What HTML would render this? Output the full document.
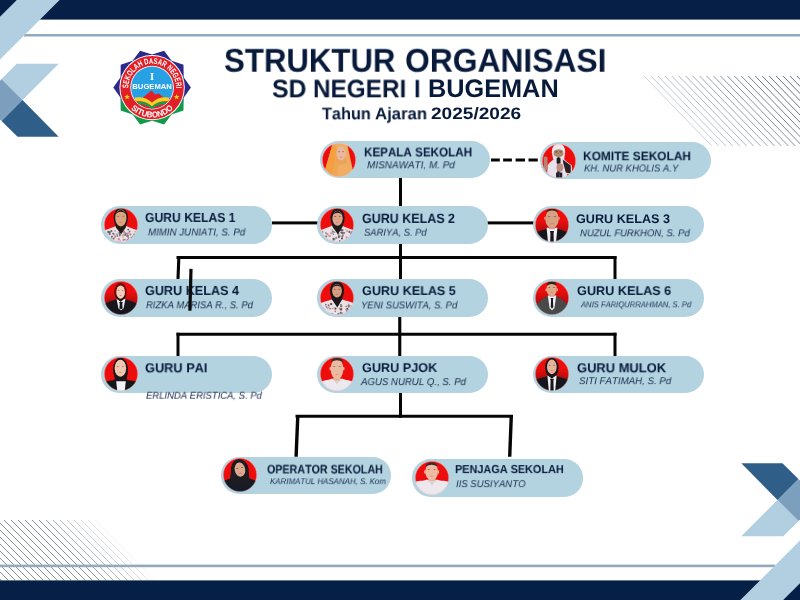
<!DOCTYPE html>
<html lang="id"><head><meta charset="utf-8"><title>Struktur Organisasi SD Negeri I Bugeman</title>
<style>
html,body{margin:0;padding:0;background:#fff;}
body{width:800px;height:600px;position:relative;overflow:hidden;font-family:"Liberation Sans",sans-serif;}
.t{position:absolute;white-space:nowrap;line-height:1;transform-origin:0 0;margin:0;padding:0;font-kerning:none;text-rendering:geometricPrecision;will-change:transform;}
.pill{position:absolute;width:171px;height:37px;border-radius:18.5px;background:#b3d3e1;}
.av{position:absolute;width:34px;height:34px;}
.ln{position:absolute;background:#050505;}
svg{position:absolute;display:block;}

</style></head><body>
<svg width="800" height="600" viewBox="0 0 800 600" style="left:0;top:0">
<defs>
<linearGradient id="dk" x1="0" y1="0" x2="1" y2="1"><stop offset="0" stop-color="#2a5680"/><stop offset="0.25" stop-color="#2f5f89"/><stop offset="1" stop-color="#2f5f89"/></linearGradient>
<clipPath id="cav"><circle cx="0" cy="0" r="49.2"/></clipPath>
<linearGradient id="shd" x1="0" y1="0" x2="0" y2="1"><stop offset="0" stop-color="#7a0508" stop-opacity="0"/><stop offset="1" stop-color="#7a0508" stop-opacity=".75"/></linearGradient>
<filter id="bl" x="-10%" y="-10%" width="120%" height="120%"><feGaussianBlur stdDeviation="1.5"/></filter>
</defs>
<line x1="644.0" y1="76" x2="711.9" y2="146" stroke="#66788a" stroke-opacity="0.33" stroke-width="1"/>
<line x1="651.0" y1="76" x2="718.9" y2="146" stroke="#66788a" stroke-opacity="0.37" stroke-width="1"/>
<line x1="657.9" y1="76" x2="725.8" y2="146" stroke="#66788a" stroke-opacity="0.41" stroke-width="1"/>
<line x1="664.9" y1="76" x2="732.8" y2="146" stroke="#66788a" stroke-opacity="0.45" stroke-width="1"/>
<line x1="671.8" y1="76" x2="739.7" y2="146" stroke="#66788a" stroke-opacity="0.49" stroke-width="1"/>
<line x1="678.8" y1="76" x2="746.7" y2="146" stroke="#66788a" stroke-opacity="0.52" stroke-width="1"/>
<line x1="685.7" y1="76" x2="753.6" y2="146" stroke="#66788a" stroke-opacity="0.56" stroke-width="1"/>
<line x1="692.7" y1="76" x2="760.6" y2="146" stroke="#66788a" stroke-opacity="0.60" stroke-width="1"/>
<line x1="699.6" y1="76" x2="767.5" y2="146" stroke="#66788a" stroke-opacity="0.64" stroke-width="1"/>
<line x1="706.6" y1="76" x2="774.5" y2="146" stroke="#66788a" stroke-opacity="0.68" stroke-width="1"/>
<line x1="713.5" y1="76" x2="781.4" y2="146" stroke="#66788a" stroke-opacity="0.72" stroke-width="1"/>
<line x1="720.5" y1="76" x2="788.4" y2="146" stroke="#66788a" stroke-opacity="0.76" stroke-width="1"/>
<line x1="727.4" y1="76" x2="795.3" y2="146" stroke="#66788a" stroke-opacity="0.80" stroke-width="1"/>
<line x1="734.4" y1="76" x2="802.3" y2="146" stroke="#66788a" stroke-opacity="0.83" stroke-width="1"/>
<line x1="741.3" y1="76" x2="809.2" y2="146" stroke="#66788a" stroke-opacity="0.87" stroke-width="1"/>
<line x1="748.3" y1="76" x2="816.2" y2="146" stroke="#66788a" stroke-opacity="0.91" stroke-width="1"/>
<line x1="755.2" y1="76" x2="823.1" y2="146" stroke="#66788a" stroke-opacity="0.95" stroke-width="1"/>
<line x1="762.2" y1="76" x2="830.1" y2="146" stroke="#66788a" stroke-opacity="0.99" stroke-width="1"/>
<line x1="769.1" y1="76" x2="837.0" y2="146" stroke="#66788a" stroke-opacity="1.00" stroke-width="1"/>
<line x1="776.1" y1="76" x2="844.0" y2="146" stroke="#66788a" stroke-opacity="1.00" stroke-width="1"/>
<line x1="783.0" y1="76" x2="850.9" y2="146" stroke="#66788a" stroke-opacity="1.00" stroke-width="1"/>
<line x1="790.0" y1="76" x2="857.9" y2="146" stroke="#66788a" stroke-opacity="1.00" stroke-width="1"/>
<line x1="796.9" y1="76" x2="864.8" y2="146" stroke="#66788a" stroke-opacity="1.00" stroke-width="1"/>
<line x1="803.9" y1="76" x2="871.8" y2="146" stroke="#66788a" stroke-opacity="1.00" stroke-width="1"/>
<line x1="-66.0" y1="520" x2="-5.5" y2="580.5" stroke="#78838e" stroke-opacity="0.90" stroke-width="1"/>
<line x1="-59.0" y1="520" x2="1.5" y2="580.5" stroke="#78838e" stroke-opacity="0.90" stroke-width="1"/>
<line x1="-52.0" y1="520" x2="8.5" y2="580.5" stroke="#78838e" stroke-opacity="0.90" stroke-width="1"/>
<line x1="-45.0" y1="520" x2="15.5" y2="580.5" stroke="#78838e" stroke-opacity="0.90" stroke-width="1"/>
<line x1="-38.0" y1="520" x2="22.5" y2="580.5" stroke="#78838e" stroke-opacity="0.90" stroke-width="1"/>
<line x1="-31.0" y1="520" x2="29.5" y2="580.5" stroke="#78838e" stroke-opacity="0.90" stroke-width="1"/>
<line x1="-24.0" y1="520" x2="36.5" y2="580.5" stroke="#78838e" stroke-opacity="0.90" stroke-width="1"/>
<line x1="-17.0" y1="520" x2="43.5" y2="580.5" stroke="#78838e" stroke-opacity="0.90" stroke-width="1"/>
<line x1="-10.0" y1="520" x2="50.5" y2="580.5" stroke="#78838e" stroke-opacity="0.90" stroke-width="1"/>
<line x1="-3.0" y1="520" x2="57.5" y2="580.5" stroke="#78838e" stroke-opacity="0.90" stroke-width="1"/>
<line x1="4.0" y1="520" x2="64.5" y2="580.5" stroke="#78838e" stroke-opacity="0.90" stroke-width="1"/>
<line x1="11.0" y1="520" x2="71.5" y2="580.5" stroke="#78838e" stroke-opacity="0.90" stroke-width="1"/>
<line x1="18.0" y1="520" x2="78.5" y2="580.5" stroke="#78838e" stroke-opacity="0.90" stroke-width="1"/>
<line x1="25.0" y1="520" x2="85.5" y2="580.5" stroke="#78838e" stroke-opacity="0.90" stroke-width="1"/>
<line x1="32.0" y1="520" x2="92.5" y2="580.5" stroke="#78838e" stroke-opacity="0.90" stroke-width="1"/>
<line x1="39.0" y1="520" x2="99.5" y2="580.5" stroke="#78838e" stroke-opacity="0.83" stroke-width="1"/>
<line x1="46.0" y1="520" x2="106.5" y2="580.5" stroke="#78838e" stroke-opacity="0.74" stroke-width="1"/>
<line x1="53.0" y1="520" x2="113.5" y2="580.5" stroke="#78838e" stroke-opacity="0.65" stroke-width="1"/>
<line x1="60.0" y1="520" x2="120.5" y2="580.5" stroke="#78838e" stroke-opacity="0.56" stroke-width="1"/>
<line x1="67.0" y1="520" x2="127.5" y2="580.5" stroke="#78838e" stroke-opacity="0.46" stroke-width="1"/>
<line x1="74.0" y1="520" x2="134.5" y2="580.5" stroke="#78838e" stroke-opacity="0.37" stroke-width="1"/>
<line x1="81.0" y1="520" x2="141.5" y2="580.5" stroke="#78838e" stroke-opacity="0.28" stroke-width="1"/>
<line x1="88.0" y1="520" x2="148.5" y2="580.5" stroke="#78838e" stroke-opacity="0.19" stroke-width="1"/>
<line x1="95.0" y1="520" x2="155.5" y2="580.5" stroke="#78838e" stroke-opacity="0.09" stroke-width="1"/>
<rect x="24" y="34" width="776" height="2.5" fill="#95a9bd"/>
<rect x="0" y="564.6" width="775" height="2.6" fill="#95a9bd"/>
<g id="cornerTL">
<rect x="0" y="0" width="800" height="19.6" fill="#061f47"/>
<polygon points="16.80,0.00 59.60,0.00 0.00,59.60 0.00,16.80" fill="#b1cfe0" />
<polygon points="16.70,63.70 58.70,63.70 22.50,100.00 1.45,79.00" fill="#b1cfe0" />
<polygon points="1.45,79.00 22.50,100.00 1.60,121.00 0.00,119.40 0.00,80.40" fill="#7c9fbe" />
<polygon points="22.50,100.00 58.70,136.70 17.50,136.70 1.60,121.00" fill="url(#dk)" />
</g>
<g transform="rotate(180 400 300)">
<rect x="0" y="0" width="800" height="19.6" fill="#061f47"/>
<polygon points="16.80,0.00 59.60,0.00 0.00,59.60 0.00,16.80" fill="#b1cfe0" />
<polygon points="16.70,63.70 58.70,63.70 22.50,100.00 1.45,79.00" fill="#b1cfe0" />
<polygon points="1.45,79.00 22.50,100.00 1.60,121.00 0.00,119.40 0.00,80.40" fill="#7c9fbe" />
<polygon points="22.50,100.00 58.70,136.70 17.50,136.70 1.60,121.00" fill="url(#dk)" />
</g>
</svg>
<svg width="800" height="600" viewBox="0 0 800 600" style="left:0;top:0"><rect x="399.00" y="176.00" width="3.00" height="106.00" fill="#050505"/>
<rect x="398.20" y="282.00" width="3.10" height="110.00" fill="#050505"/>
<rect x="399.00" y="392.00" width="3.00" height="25.70" fill="#050505"/>
<rect x="272.00" y="221.40" width="262.00" height="3.00" fill="#050505"/>
<rect x="176.50" y="256.00" width="440.00" height="3.00" fill="#050505"/>
<line x1="178.9" y1="256.2" x2="177.9" y2="281" stroke="#050505" stroke-width="3.1"/>
<rect x="613.50" y="256.00" width="3.00" height="25.00" fill="#050505"/>
<rect x="176.50" y="332.75" width="440.00" height="3.00" fill="#050505"/>
<rect x="176.50" y="332.75" width="3.00" height="25.00" fill="#050505"/>
<rect x="613.50" y="332.75" width="3.00" height="25.00" fill="#050505"/>
<rect x="295.50" y="414.75" width="217.50" height="3.00" fill="#050505"/>
<line x1="297.8" y1="415.5" x2="296.1" y2="456.8" stroke="#050505" stroke-width="3.4"/>
<line x1="511.3" y1="415.5" x2="509.7" y2="456.8" stroke="#050505" stroke-width="3.4"/>
<rect x="491.00" y="158.50" width="8.80" height="3.00" fill="#050505"/>
<rect x="503.10" y="158.50" width="8.80" height="3.00" fill="#050505"/>
<rect x="515.60" y="158.50" width="9.40" height="3.00" fill="#050505"/>
<rect x="528.50" y="158.50" width="9.30" height="3.00" fill="#050505"/></svg>
<div class="pill" style="left:319.5px;top:141.1px;width:170.6px;height:37.3px;border-radius:18.65px"></div>
<div class="pill" style="left:539.8px;top:142.2px;width:170.8px;height:37.3px;border-radius:18.65px"></div>
<div class="pill" style="left:101px;top:206.1px;width:171.1px;height:37.5px;border-radius:18.75px"></div>
<div class="pill" style="left:317px;top:206px;width:171px;height:37.5px;border-radius:18.75px"></div>
<div class="pill" style="left:533px;top:205.9px;width:170.7px;height:37.6px;border-radius:18.8px"></div>
<div class="pill" style="left:101px;top:279.1px;width:171.2px;height:38px;border-radius:19px"></div>
<div class="pill" style="left:317px;top:279.4px;width:171px;height:37.3px;border-radius:18.65px"></div>
<div class="pill" style="left:532.6px;top:279.2px;width:171.1px;height:37.5px;border-radius:18.75px"></div>
<div class="pill" style="left:101.1px;top:355.8px;width:171.3px;height:37.3px;border-radius:18.65px"></div>
<div class="pill" style="left:317px;top:355.7px;width:171.2px;height:37.3px;border-radius:18.65px"></div>
<div class="pill" style="left:532.6px;top:355.8px;width:171.1px;height:37.3px;border-radius:18.65px"></div>
<div class="pill" style="left:220.5px;top:457px;width:170.8px;height:36.7px;border-radius:18.35px"></div>
<div class="pill" style="left:412.1px;top:459.4px;width:171.1px;height:37.3px;border-radius:18.65px"></div>
<svg class="av" width="34" height="34" viewBox="-50 -50 100 100" style="left:322.10px;top:143.05px"><circle cx="0" cy="0" r="50" fill="#c9dfea"/><g clip-path="url(#cav)"><g filter="url(#bl)"><rect x="-52" y="-52" width="104" height="104" fill="#ee0f0f"/>
<path d="M-18,-50 L-40,26 L-34,54 L44,54 L39,22 L24,-48 Q2,-54 -18,-50 Z" fill="#efae64"/>
<path d="M-18,-50 L-40,26 L-34,54 L-21,54 L-6,-32 Z" fill="#f4a040"/>
<path d="M-7,-32 L-22,54 L-6,54 L0,0 Z" fill="#f0a655"/>
<ellipse cx="6" cy="-19.5" rx="13.5" ry="21" fill="#e9b89e"/><ellipse cx="-0.075" cy="-24.12" rx="2.7" ry="1.3" fill="#4a3028" opacity=".75"/><ellipse cx="12.075" cy="-24.12" rx="2.7" ry="1.3" fill="#4a3028" opacity=".75"/><ellipse cx="6" cy="-8.58" rx="4.05" ry="1.2" fill="#b86a60" opacity=".8"/>
<path d="M-8,-6 Q6,10 20,-8 L25,8 Q8,18 -9,8 Z" fill="#e9a45a"/></g></g><circle cx="0" cy="0" r="48.9" fill="none" stroke="#f6b8b8" stroke-opacity=".6" stroke-width="1.8"/></svg>
<div class="t" style="left:363.72px;top:146px;font-size:12.65px;color:#081a3a;transform:translate(0.00px,0.38px) scaleX(0.9210);font-weight:bold;">KEPALA SEKOLAH</div>
<div class="t" style="left:366.69px;top:161px;font-size:10.17px;color:#172a4a;transform:translate(0.00px,0.30px) scaleX(0.9796);font-style:italic;">MISNAWATI, M. Pd</div>
<svg class="av" width="34" height="34" viewBox="-50 -50 100 100" style="left:541.80px;top:144.45px"><circle cx="0" cy="0" r="50" fill="#c9dfea"/><g clip-path="url(#cav)"><g filter="url(#bl)"><rect x="-52" y="-52" width="104" height="104" fill="#ee0f0f"/>
<path d="M-21,-26 Q-21,-51 -1,-51 Q18,-51 18,-26 L15,-4 L-17,-4 Z" fill="#f3e6ea"/>
<path d="M-35,54 L-34,14 Q-25,-2 -11,-6 L14,-6 Q24,2 24,22 L24,54 Z" fill="#e9e1ee"/>
<path d="M9,-8 L38,13 L38,40 L20,37 L11,8 Z" fill="#f0dde0"/>
<path d="M11,-4.5 L34.5,13.6 L34.5,37 L20,33.6 L12.7,6.4 Z" fill="#2a2020"/>
<ellipse cx="-1.5" cy="-23" rx="14.5" ry="15" fill="#ab886e"/>
<path d="M-16.5,-30 Q-15,-48 -1,-48 Q14,-48 14,-30 Q0,-39 -16.5,-30 Z" fill="#efe6ea"/>
<ellipse cx="-7.5" cy="-27" rx="3.6" ry="1.8" fill="#55402f" opacity=".85"/><ellipse cx="5" cy="-27" rx="3.6" ry="1.8" fill="#55402f" opacity=".85"/>
<path d="M-14,-17 Q-1,-6 12,-17 Q11,-3 -1,-1 Q-12,-3 -14,-17 Z" fill="#e9e3e3"/>
<path d="M-45,-10 Q-39,-16 -34,-10 L-33,24 Q-39,32 -44,24 Z" fill="#b7836e"/>
<rect x="-7" y="-11" width="11.5" height="19" rx="4.5" fill="#1c1c26"/>
<rect x="-5" y="5" width="7.5" height="46" fill="#262630"/>
<ellipse cx="2.5" cy="19" rx="10" ry="12.5" fill="#bf8c82"/>
<rect x="-8.5" y="34" width="6.5" height="16" fill="#1c1c26"/><rect x="3" y="34" width="6.5" height="16" fill="#1c1c26"/></g></g><circle cx="0" cy="0" r="48.9" fill="none" stroke="#f6b8b8" stroke-opacity=".6" stroke-width="1.8"/></svg>
<div class="t" style="left:582.70px;top:150px;font-size:12.35px;color:#081a3a;transform:translate(0.00px,0.20px) scaleX(0.9662);font-weight:bold;">KOMITE SEKOLAH</div>
<div class="t" style="left:583.91px;top:164px;font-size:9.88px;color:#172a4a;transform:translate(0.00px,0.45px) scaleX(0.9594);font-style:italic;">KH. NUR KHOLIS A.Y</div>
<svg class="av" width="34" height="34" viewBox="-50 -50 100 100" style="left:103.60px;top:207.85px"><circle cx="0" cy="0" r="50" fill="#c9dfea"/><g clip-path="url(#cav)"><g filter="url(#bl)"><rect x="-52" y="-52" width="104" height="104" fill="#ee0f0f"/>
<path d="M-54,54 L-54,19 C-40,12 -26,8 -15,3 L15,3 C26,8 40,12 54,19 L54,54 Z" fill="#ebe2e5"/>
<circle cx="-4.4" cy="31.5" r="2.7" fill="#d09aa0" opacity=".85"/>
<circle cx="28.0" cy="28.0" r="3.3" fill="#8c868e" opacity=".85"/>
<circle cx="-37.3" cy="20.7" r="2.9" fill="#55525a" opacity=".85"/>
<circle cx="35.9" cy="34.6" r="3.6" fill="#8c868e" opacity=".85"/>
<circle cx="42.8" cy="35.5" r="3.0" fill="#8c868e" opacity=".85"/>
<circle cx="11.3" cy="42.9" r="2.1" fill="#55525a" opacity=".85"/>
<circle cx="-28.5" cy="18.2" r="3.2" fill="#55525a" opacity=".85"/>
<circle cx="-16.0" cy="32.8" r="2.8" fill="#b88088" opacity=".85"/>
<circle cx="12.9" cy="29.0" r="2.1" fill="#444048" opacity=".85"/>
<circle cx="14.2" cy="25.1" r="3.6" fill="#8c868e" opacity=".85"/>
<circle cx="31.3" cy="37.7" r="3.2" fill="#6f6a72" opacity=".85"/>
<circle cx="-36.1" cy="20.2" r="3.5" fill="#55525a" opacity=".85"/>
<circle cx="-26.7" cy="46.2" r="2.6" fill="#d09aa0" opacity=".85"/>
<circle cx="19.2" cy="25.6" r="3.0" fill="#8c868e" opacity=".85"/>
<circle cx="25.6" cy="19.3" r="2.5" fill="#55525a" opacity=".85"/>
<circle cx="-44.6" cy="25.2" r="2.2" fill="#55525a" opacity=".85"/>
<circle cx="-3.2" cy="28.4" r="2.9" fill="#444048" opacity=".85"/>
<circle cx="21.3" cy="13.5" r="2.6" fill="#444048" opacity=".85"/>
<circle cx="-9.7" cy="49.6" r="2.4" fill="#55525a" opacity=".85"/>
<circle cx="43.3" cy="41.7" r="3.6" fill="#6f6a72" opacity=".85"/>
<circle cx="45.6" cy="33.3" r="2.2" fill="#8c868e" opacity=".85"/>
<circle cx="-22.2" cy="40.5" r="3.3" fill="#6f6a72" opacity=".85"/>
<circle cx="-26.8" cy="34.7" r="3.0" fill="#55525a" opacity=".85"/>
<circle cx="-11.8" cy="27.0" r="2.8" fill="#8c868e" opacity=".85"/>
<circle cx="6.9" cy="44.4" r="3.0" fill="#b88088" opacity=".85"/>
<circle cx="-17.4" cy="17.6" r="2.4" fill="#8c868e" opacity=".85"/>
<circle cx="-28.5" cy="39.1" r="2.3" fill="#8c868e" opacity=".85"/>
<circle cx="41.4" cy="45.1" r="2.1" fill="#8c868e" opacity=".85"/>
<circle cx="22.1" cy="24.4" r="3.3" fill="#d09aa0" opacity=".85"/>
<circle cx="8.9" cy="20.3" r="3.5" fill="#b88088" opacity=".85"/>
<circle cx="-26.5" cy="46.4" r="2.0" fill="#444048" opacity=".85"/>
<circle cx="-21.2" cy="26.7" r="2.1" fill="#55525a" opacity=".85"/>
<circle cx="-20.1" cy="30.3" r="2.1" fill="#b88088" opacity=".85"/>
<circle cx="-33.3" cy="26.9" r="3.1" fill="#6f6a72" opacity=".85"/>
<circle cx="17.6" cy="32.5" r="2.9" fill="#b88088" opacity=".85"/>
<circle cx="39.0" cy="27.9" r="3.1" fill="#6f6a72" opacity=".85"/>
<circle cx="12.5" cy="28.3" r="2.5" fill="#444048" opacity=".85"/>
<circle cx="-4.3" cy="23.4" r="3.4" fill="#55525a" opacity=".85"/>
<circle cx="21.8" cy="37.6" r="2.6" fill="#6f6a72" opacity=".85"/>
<circle cx="17.0" cy="45.8" r="3.5" fill="#d09aa0" opacity=".85"/>
<circle cx="-43.2" cy="29.0" r="3.0" fill="#55525a" opacity=".85"/>
<circle cx="-10.8" cy="32.5" r="2.1" fill="#8c868e" opacity=".85"/>
<circle cx="-22.3" cy="25.5" r="2.6" fill="#6f6a72" opacity=".85"/>
<circle cx="21.6" cy="32.4" r="2.7" fill="#d09aa0" opacity=".85"/>
<circle cx="3.8" cy="29.8" r="2.0" fill="#8c868e" opacity=".85"/>
<circle cx="9.3" cy="28.2" r="3.5" fill="#b88088" opacity=".85"/>
<circle cx="-35.6" cy="40.8" r="3.5" fill="#444048" opacity=".85"/>
<circle cx="-18.3" cy="36.5" r="2.8" fill="#b88088" opacity=".85"/>
<circle cx="23.3" cy="22.4" r="2.8" fill="#d09aa0" opacity=".85"/>
<circle cx="-23.8" cy="25.0" r="2.3" fill="#6f6a72" opacity=".85"/>
<circle cx="-6.4" cy="41.9" r="3.4" fill="#b88088" opacity=".85"/>
<circle cx="-10.6" cy="32.5" r="2.3" fill="#6f6a72" opacity=".85"/>
<circle cx="-33.6" cy="22.7" r="3.1" fill="#55525a" opacity=".85"/>
<circle cx="41.4" cy="19.6" r="2.2" fill="#b88088" opacity=".85"/>
<circle cx="-2.6" cy="46.9" r="2.6" fill="#d09aa0" opacity=".85"/>
<circle cx="19.9" cy="43.4" r="2.7" fill="#8c868e" opacity=".85"/>
<circle cx="19.2" cy="32.0" r="3.0" fill="#6f6a72" opacity=".85"/>
<circle cx="5.9" cy="34.9" r="2.7" fill="#d09aa0" opacity=".85"/>
<ellipse cx="-0.5" cy="-22" rx="21" ry="29.5" fill="#241a18"/>
<path d="M-20.5,-14.5 L-15,7 L0.5,27 L14,7 L19.5,-14.5 Z" fill="#241a18"/>
<ellipse cx="-0.5" cy="-20.5" rx="16.5" ry="25" fill="#dba581"/><ellipse cx="-7.925" cy="-26" rx="3.3" ry="1.3" fill="#4a3028" opacity=".75"/><ellipse cx="6.925" cy="-26" rx="3.3" ry="1.3" fill="#4a3028" opacity=".75"/><ellipse cx="-0.5" cy="-7.5" rx="4.95" ry="1.2" fill="#b86a60" opacity=".8"/>
<path d="M-16,-31.75 Q-0.5,-56.75 15,-31.75 Q-0.5,-45.5 -16,-31.75 Z" fill="#241a18"/></g></g><circle cx="0" cy="0" r="48.9" fill="none" stroke="#f6b8b8" stroke-opacity=".6" stroke-width="1.8"/></svg>
<div class="t" style="left:145.30px;top:210px;font-size:13.08px;color:#081a3a;transform:translate(0.00px,0.88px) scaleX(0.9296);font-weight:bold;">GURU KELAS 1</div>
<div class="t" style="left:147.50px;top:228px;font-size:10.17px;color:#172a4a;transform:translate(0.00px,0.47px) scaleX(0.9557);font-style:italic;">MIMIN JUNIATI, S. Pd</div>
<svg class="av" width="34" height="34" viewBox="-50 -50 100 100" style="left:319.60px;top:207.75px"><circle cx="0" cy="0" r="50" fill="#c9dfea"/><g clip-path="url(#cav)"><g filter="url(#bl)"><rect x="-52" y="-52" width="104" height="104" fill="#ee0f0f"/>
<path d="M-54,54 L-54,17.5 C-40,10.5 -26,7 -15,2 L15,2 C26,7 40,10.5 54,17.5 L54,54 Z" fill="#ebe2e5"/>
<circle cx="39.1" cy="47.8" r="2.0" fill="#55525a" opacity=".85"/>
<circle cx="-17.8" cy="23.9" r="2.2" fill="#6f6a72" opacity=".85"/>
<circle cx="-28.3" cy="26.7" r="3.0" fill="#b88088" opacity=".85"/>
<circle cx="44.3" cy="28.9" r="2.8" fill="#55525a" opacity=".85"/>
<circle cx="21.5" cy="23.1" r="2.3" fill="#55525a" opacity=".85"/>
<circle cx="-42.8" cy="23.5" r="3.0" fill="#b88088" opacity=".85"/>
<circle cx="43.3" cy="23.2" r="3.5" fill="#6f6a72" opacity=".85"/>
<circle cx="-20.1" cy="48.9" r="2.1" fill="#8c868e" opacity=".85"/>
<circle cx="-2.4" cy="38.2" r="3.3" fill="#8c868e" opacity=".85"/>
<circle cx="16.2" cy="14.9" r="2.9" fill="#b88088" opacity=".85"/>
<circle cx="15.9" cy="29.8" r="2.2" fill="#8c868e" opacity=".85"/>
<circle cx="-20.6" cy="32.1" r="2.5" fill="#8c868e" opacity=".85"/>
<circle cx="-12.0" cy="20.1" r="3.4" fill="#6f6a72" opacity=".85"/>
<circle cx="-32.2" cy="34.0" r="3.1" fill="#55525a" opacity=".85"/>
<circle cx="30.2" cy="18.0" r="2.2" fill="#8c868e" opacity=".85"/>
<circle cx="-10.8" cy="26.9" r="2.1" fill="#55525a" opacity=".85"/>
<circle cx="28.5" cy="36.9" r="3.3" fill="#b88088" opacity=".85"/>
<circle cx="41.3" cy="30.6" r="3.2" fill="#d09aa0" opacity=".85"/>
<circle cx="-14.2" cy="48.9" r="2.8" fill="#d09aa0" opacity=".85"/>
<circle cx="-42.6" cy="19.1" r="2.3" fill="#8c868e" opacity=".85"/>
<circle cx="39.9" cy="47.9" r="2.1" fill="#b88088" opacity=".85"/>
<circle cx="5.2" cy="35.3" r="2.9" fill="#444048" opacity=".85"/>
<circle cx="28.8" cy="18.6" r="2.3" fill="#d09aa0" opacity=".85"/>
<circle cx="-44.9" cy="40.0" r="3.4" fill="#444048" opacity=".85"/>
<circle cx="28.9" cy="45.6" r="3.3" fill="#444048" opacity=".85"/>
<circle cx="-39.6" cy="48.3" r="3.2" fill="#444048" opacity=".85"/>
<circle cx="4.2" cy="25.9" r="3.2" fill="#6f6a72" opacity=".85"/>
<circle cx="5.3" cy="31.1" r="2.2" fill="#6f6a72" opacity=".85"/>
<circle cx="12.1" cy="22.0" r="3.2" fill="#8c868e" opacity=".85"/>
<circle cx="14.8" cy="22.2" r="2.9" fill="#444048" opacity=".85"/>
<circle cx="-24.4" cy="31.6" r="3.3" fill="#d09aa0" opacity=".85"/>
<circle cx="44.9" cy="19.4" r="2.6" fill="#6f6a72" opacity=".85"/>
<circle cx="26.3" cy="14.0" r="2.3" fill="#d09aa0" opacity=".85"/>
<circle cx="16.7" cy="15.3" r="3.2" fill="#d09aa0" opacity=".85"/>
<circle cx="41.8" cy="25.6" r="2.8" fill="#6f6a72" opacity=".85"/>
<circle cx="17.4" cy="30.6" r="2.3" fill="#8c868e" opacity=".85"/>
<circle cx="-40.3" cy="45.4" r="3.2" fill="#d09aa0" opacity=".85"/>
<circle cx="15.9" cy="33.4" r="3.1" fill="#6f6a72" opacity=".85"/>
<circle cx="-8.5" cy="41.8" r="3.5" fill="#6f6a72" opacity=".85"/>
<circle cx="-14.6" cy="24.3" r="3.4" fill="#d09aa0" opacity=".85"/>
<circle cx="15.4" cy="39.7" r="2.9" fill="#6f6a72" opacity=".85"/>
<circle cx="17.6" cy="24.1" r="3.6" fill="#6f6a72" opacity=".85"/>
<circle cx="-32.5" cy="23.6" r="2.7" fill="#8c868e" opacity=".85"/>
<circle cx="-34.9" cy="31.8" r="2.0" fill="#d09aa0" opacity=".85"/>
<circle cx="-42.6" cy="40.9" r="2.4" fill="#55525a" opacity=".85"/>
<circle cx="44.4" cy="34.6" r="2.7" fill="#55525a" opacity=".85"/>
<circle cx="6.0" cy="34.1" r="2.3" fill="#55525a" opacity=".85"/>
<circle cx="-12.8" cy="49.4" r="3.5" fill="#8c868e" opacity=".85"/>
<circle cx="14.2" cy="15.1" r="3.5" fill="#55525a" opacity=".85"/>
<circle cx="10.2" cy="13.8" r="2.5" fill="#444048" opacity=".85"/>
<circle cx="36.5" cy="20.4" r="3.3" fill="#55525a" opacity=".85"/>
<circle cx="9.5" cy="32.8" r="2.0" fill="#6f6a72" opacity=".85"/>
<circle cx="-13.8" cy="14.7" r="2.3" fill="#b88088" opacity=".85"/>
<circle cx="-6.8" cy="21.3" r="2.4" fill="#8c868e" opacity=".85"/>
<circle cx="8.0" cy="47.4" r="2.6" fill="#444048" opacity=".85"/>
<circle cx="13.9" cy="39.3" r="2.5" fill="#444048" opacity=".85"/>
<circle cx="35.6" cy="49.2" r="2.2" fill="#444048" opacity=".85"/>
<circle cx="-11.0" cy="40.5" r="2.8" fill="#55525a" opacity=".85"/>
<ellipse cx="1.6" cy="-21.5" rx="21" ry="27.5" fill="#1e1a1d"/>
<path d="M-18.4,-14 L-12.9,6 L2.6,27 L16.1,6 L21.6,-14 Z" fill="#1e1a1d"/>
<ellipse cx="1.6" cy="-20" rx="15.3" ry="22" fill="#dfa48c"/><ellipse cx="-5.285" cy="-24.84" rx="3.06" ry="1.3" fill="#4a3028" opacity=".75"/><ellipse cx="8.485" cy="-24.84" rx="3.06" ry="1.3" fill="#4a3028" opacity=".75"/><ellipse cx="1.6" cy="-8.56" rx="4.59" ry="1.2" fill="#b86a60" opacity=".8"/>
<path d="M-12.7,-29.9 Q1.6,-51.9 15.9,-29.9 Q1.6,-42 -12.7,-29.9 Z" fill="#1e1a1d"/></g></g><circle cx="0" cy="0" r="48.9" fill="none" stroke="#f6b8b8" stroke-opacity=".6" stroke-width="1.8"/></svg>
<div class="t" style="left:361.99px;top:211px;font-size:13.44px;color:#081a3a;transform:translate(0.00px,0.88px) scaleX(0.9292);font-weight:bold;">GURU KELAS 2</div>
<div class="t" style="left:363.63px;top:228px;font-size:9.88px;color:#172a4a;transform:translate(0.00px,0.65px) scaleX(0.9514);font-style:italic;">SARIYA, S. Pd</div>
<svg class="av" width="34" height="34" viewBox="-50 -50 100 100" style="left:535.20px;top:207.70px"><circle cx="0" cy="0" r="50" fill="#c9dfea"/><g clip-path="url(#cav)"><g filter="url(#bl)"><rect x="-52" y="-52" width="104" height="104" fill="#ee0f0f"/>
<rect x="-52" y="-12" width="104" height="42" fill="url(#shd)"/>
<path d="M-54,54 L-54,25 C-40,18 -26,15 -16,10 L16,10 C26,15 40,18 54,25 L54,54 Z" fill="#15151a"/>
<path d="M-16,8 L16,8 L11.5,54 L-11.5,54 Z" fill="#f1eff3"/>
<path d="M-6,18 L6,18 L4.5,24 L5.5,54 L0,57 L-5.5,54 L-4.5,24 Z" fill="#15151a"/>
<rect x="-9" y="0" width="18" height="12" fill="#cf987a"/>
<ellipse cx="-20.5" cy="-20" rx="2.5" ry="5" fill="#d39c7e"/><ellipse cx="20.5" cy="-20" rx="2.5" ry="5" fill="#d39c7e"/>
<ellipse cx="0" cy="-18" rx="19.5" ry="28" fill="#d8a282"/><ellipse cx="-8.775" cy="-24.16" rx="3.9" ry="1.3" fill="#4a3028" opacity=".75"/><ellipse cx="8.775" cy="-24.16" rx="3.9" ry="1.3" fill="#4a3028" opacity=".75"/><ellipse cx="0" cy="-3.44" rx="5.85" ry="1.2" fill="#a8645a" opacity=".8"/>
<path d="M-12,2 Q0,14 12,2 Q6,8 0,8 Q-6,8 -12,2 Z" fill="#5e4030" opacity=".85"/>
<path d="M-17,-37.5 Q-17,-47 0,-48 Q17,-47 17,-37.5 Q0,-48.5 -17,-37.5 Z" fill="#3a2a26"/></g></g><circle cx="0" cy="0" r="48.9" fill="none" stroke="#f6b8b8" stroke-opacity=".6" stroke-width="1.8"/></svg>
<div class="t" style="left:576.08px;top:212px;font-size:12.50px;color:#081a3a;transform:translate(0.00px,0.60px) scaleX(1.0097);font-weight:bold;">GURU KELAS 3</div>
<div class="t" style="left:579.61px;top:229px;font-size:9.88px;color:#172a4a;transform:translate(0.00px,0.28px) scaleX(0.9607);font-style:italic;">NUZUL FURKHON, S. Pd</div>
<svg class="av" width="34" height="34" viewBox="-50 -50 100 100" style="left:103.60px;top:281.10px"><circle cx="0" cy="0" r="50" fill="#c9dfea"/><g clip-path="url(#cav)"><g filter="url(#bl)"><rect x="-52" y="-52" width="104" height="104" fill="#ee0f0f"/>
<rect x="-52" y="-18" width="104" height="42" fill="url(#shd)"/>
<path d="M-54,54 L-54,19 C-40,12 -26,8.6 -14,3.6 L14,3.6 C26,8.6 40,12 54,19 L54,54 Z" fill="#14141a"/>
<path d="M-13,3 L13,3 L7.5,31 L-7.5,31 Z" fill="#f1eff3"/>
<path d="M-7.5,31 L7.5,31 L0,36 Z" fill="#f1eff3"/>
<path d="M-5.2,12 L5.2,12 L3.7,18 L4.7,30 L0,33 L-4.7,30 L-3.7,18 Z" fill="#15151a"/>
<ellipse cx="-1.5" cy="-18.5" rx="18.5" ry="26" fill="#6a080b"/>
<path d="M-15,-2 L-1,12 L13,-2 L12,-8 L-14,-8 Z" fill="#1a1518"/>
<ellipse cx="-1.2" cy="-17.5" rx="12.8" ry="19.5" fill="#f2cdb8"/><ellipse cx="-6.96" cy="-21.79" rx="2.56" ry="1.3" fill="#4a3028" opacity=".75"/><ellipse cx="4.56" cy="-21.79" rx="2.56" ry="1.3" fill="#4a3028" opacity=".75"/><ellipse cx="-1.2" cy="-7.36" rx="3.84" ry="1.2" fill="#d0605a" opacity=".8"/></g></g><circle cx="0" cy="0" r="48.9" fill="none" stroke="#f6b8b8" stroke-opacity=".6" stroke-width="1.8"/></svg>
<div class="t" style="left:145.48px;top:283px;font-size:13.08px;color:#081a3a;transform:translate(0.00px,0.88px) scaleX(0.9660);font-weight:bold;">GURU KELAS 4</div>
<div class="t" style="left:145.71px;top:301px;font-size:10.17px;color:#172a4a;transform:translate(0.00px,0.30px) scaleX(0.9281);font-style:italic;">RIZKA MARISA R., S. Pd</div>
<svg class="av" width="34" height="34" viewBox="-50 -50 100 100" style="left:319.60px;top:281.05px"><circle cx="0" cy="0" r="50" fill="#c9dfea"/><g clip-path="url(#cav)"><g filter="url(#bl)"><rect x="-52" y="-52" width="104" height="104" fill="#ee0f0f"/>
<path d="M-54,54 L-54,18 C-40,11 -26,9 -15,4 L15,4 C26,9 40,11 54,18 L54,54 Z" fill="#ebe2e5"/>
<circle cx="10.8" cy="43.4" r="2.8" fill="#444048" opacity=".85"/>
<circle cx="12.1" cy="23.5" r="3.3" fill="#8c868e" opacity=".85"/>
<circle cx="44.4" cy="27.2" r="3.5" fill="#6f6a72" opacity=".85"/>
<circle cx="43.5" cy="25.8" r="3.5" fill="#b88088" opacity=".85"/>
<circle cx="43.4" cy="43.2" r="2.7" fill="#55525a" opacity=".85"/>
<circle cx="4.0" cy="47.0" r="3.1" fill="#444048" opacity=".85"/>
<circle cx="30.1" cy="31.6" r="3.1" fill="#444048" opacity=".85"/>
<circle cx="43.3" cy="41.9" r="2.3" fill="#8c868e" opacity=".85"/>
<circle cx="14.3" cy="46.2" r="3.1" fill="#55525a" opacity=".85"/>
<circle cx="-25.3" cy="21.6" r="2.3" fill="#8c868e" opacity=".85"/>
<circle cx="33.2" cy="38.6" r="3.2" fill="#b88088" opacity=".85"/>
<circle cx="-17.3" cy="17.5" r="3.5" fill="#444048" opacity=".85"/>
<circle cx="11.5" cy="19.9" r="2.3" fill="#444048" opacity=".85"/>
<circle cx="-32.8" cy="19.2" r="2.1" fill="#444048" opacity=".85"/>
<circle cx="-4.7" cy="31.4" r="2.4" fill="#55525a" opacity=".85"/>
<circle cx="-24.0" cy="26.6" r="2.5" fill="#b88088" opacity=".85"/>
<circle cx="-43.3" cy="50.0" r="2.9" fill="#55525a" opacity=".85"/>
<circle cx="11.8" cy="35.6" r="2.5" fill="#8c868e" opacity=".85"/>
<circle cx="7.3" cy="30.7" r="2.0" fill="#444048" opacity=".85"/>
<circle cx="-20.5" cy="31.7" r="2.4" fill="#55525a" opacity=".85"/>
<circle cx="-30.2" cy="26.7" r="2.3" fill="#55525a" opacity=".85"/>
<circle cx="29.6" cy="37.6" r="3.1" fill="#8c868e" opacity=".85"/>
<circle cx="-14.1" cy="31.1" r="2.1" fill="#8c868e" opacity=".85"/>
<circle cx="32.2" cy="36.3" r="3.2" fill="#b88088" opacity=".85"/>
<circle cx="31.7" cy="34.9" r="2.9" fill="#6f6a72" opacity=".85"/>
<circle cx="34.4" cy="18.9" r="2.4" fill="#d09aa0" opacity=".85"/>
<circle cx="45.2" cy="42.7" r="3.5" fill="#6f6a72" opacity=".85"/>
<circle cx="34.0" cy="44.1" r="3.4" fill="#55525a" opacity=".85"/>
<circle cx="-4.9" cy="34.0" r="3.0" fill="#b88088" opacity=".85"/>
<circle cx="21.4" cy="47.5" r="2.9" fill="#8c868e" opacity=".85"/>
<circle cx="-32.7" cy="23.5" r="2.3" fill="#b88088" opacity=".85"/>
<circle cx="-24.5" cy="21.4" r="2.3" fill="#55525a" opacity=".85"/>
<circle cx="29.6" cy="41.7" r="2.8" fill="#6f6a72" opacity=".85"/>
<circle cx="-36.9" cy="48.5" r="2.9" fill="#6f6a72" opacity=".85"/>
<circle cx="34.6" cy="28.1" r="2.1" fill="#8c868e" opacity=".85"/>
<circle cx="4.3" cy="47.9" r="2.6" fill="#b88088" opacity=".85"/>
<circle cx="7.9" cy="31.9" r="3.3" fill="#d09aa0" opacity=".85"/>
<circle cx="27.8" cy="47.8" r="2.9" fill="#8c868e" opacity=".85"/>
<circle cx="-3.7" cy="30.5" r="2.3" fill="#444048" opacity=".85"/>
<circle cx="-31.8" cy="42.7" r="2.4" fill="#55525a" opacity=".85"/>
<circle cx="13.7" cy="43.6" r="2.8" fill="#8c868e" opacity=".85"/>
<circle cx="12.2" cy="32.7" r="3.5" fill="#444048" opacity=".85"/>
<circle cx="27.1" cy="24.7" r="2.8" fill="#8c868e" opacity=".85"/>
<circle cx="-9.3" cy="29.4" r="2.1" fill="#8c868e" opacity=".85"/>
<circle cx="26.7" cy="33.8" r="2.5" fill="#b88088" opacity=".85"/>
<circle cx="34.0" cy="23.1" r="2.9" fill="#444048" opacity=".85"/>
<circle cx="13.1" cy="23.2" r="2.7" fill="#b88088" opacity=".85"/>
<circle cx="32.3" cy="36.9" r="3.0" fill="#d09aa0" opacity=".85"/>
<circle cx="-5.1" cy="39.4" r="2.2" fill="#6f6a72" opacity=".85"/>
<circle cx="33.5" cy="45.2" r="2.1" fill="#444048" opacity=".85"/>
<circle cx="44.8" cy="33.3" r="2.6" fill="#6f6a72" opacity=".85"/>
<circle cx="-40.4" cy="31.2" r="3.2" fill="#b88088" opacity=".85"/>
<circle cx="12.7" cy="25.0" r="2.7" fill="#6f6a72" opacity=".85"/>
<circle cx="-14.3" cy="47.0" r="3.2" fill="#8c868e" opacity=".85"/>
<circle cx="29.1" cy="40.4" r="3.2" fill="#6f6a72" opacity=".85"/>
<circle cx="-27.6" cy="30.6" r="2.7" fill="#d09aa0" opacity=".85"/>
<circle cx="36.4" cy="23.1" r="3.1" fill="#8c868e" opacity=".85"/>
<circle cx="-40.1" cy="46.5" r="2.9" fill="#d09aa0" opacity=".85"/>
<ellipse cx="0" cy="-23" rx="20.5" ry="27" fill="#1c181b"/>
<path d="M-19.5,-15.5 L-15.5,4 L1,28 L15.5,4 L19.5,-15.5 Z" fill="#1c181b"/>
<ellipse cx="0" cy="-21.5" rx="14.4" ry="20" fill="#d89c80"/><ellipse cx="-6.48" cy="-25.9" rx="2.88" ry="1.3" fill="#4a3028" opacity=".75"/><ellipse cx="6.48" cy="-25.9" rx="2.88" ry="1.3" fill="#4a3028" opacity=".75"/><ellipse cx="0" cy="-11.1" rx="4.32" ry="1.2" fill="#b86a60" opacity=".8"/>
<path d="M-13.4,-30.5 Q0,-50.5 13.4,-30.5 Q0,-41.5 -13.4,-30.5 Z" fill="#1c181b"/></g></g><circle cx="0" cy="0" r="48.9" fill="none" stroke="#f6b8b8" stroke-opacity=".6" stroke-width="1.8"/></svg>
<div class="t" style="left:361.98px;top:284px;font-size:12.72px;color:#081a3a;transform:translate(0.00px,0.88px) scaleX(0.9913);font-weight:bold;">GURU KELAS 5</div>
<div class="t" style="left:361.01px;top:301px;font-size:9.88px;color:#172a4a;transform:translate(0.00px,0.38px) scaleX(0.9585);font-style:italic;">YENI SUSWITA, S. Pd</div>
<svg class="av" width="34" height="34" viewBox="-50 -50 100 100" style="left:535.40px;top:280.95px"><circle cx="0" cy="0" r="50" fill="#c9dfea"/><g clip-path="url(#cav)"><g filter="url(#bl)"><rect x="-52" y="-52" width="104" height="104" fill="#ee0f0f"/>
<rect x="-52" y="-20" width="104" height="46" fill="url(#shd)"/>
<path d="M-54,54 L-54,24 C-40,17 -26,-1 -12.7,-6 L12.7,-6 C26,-1 40,17 54,24 L54,54 Z" fill="#48494a"/>
<path d="M-12.5,-7 L12.5,-7 L7,30 L-7,30 Z" fill="#f1eff3"/>
<path d="M-7,30 L7,30 L0,36 Z" fill="#f1eff3"/>
<path d="M-4.2,0 L4.2,0 L2.7,6 L3.7,27 L0,30 L-3.7,27 L-2.7,6 Z" fill="#18181c"/>
<rect x="-7" y="-14" width="14" height="10" fill="#d69f80"/>
<ellipse cx="-17" cy="-24" rx="2.4" ry="4.5" fill="#dba688"/><ellipse cx="15.5" cy="-24" rx="2.4" ry="4.5" fill="#dba688"/>
<ellipse cx="-1" cy="-26.5" rx="15.3" ry="20.5" fill="#e0a98a"/><ellipse cx="-7.885" cy="-31.01" rx="3.06" ry="1.3" fill="#4a3028" opacity=".75"/><ellipse cx="5.885" cy="-31.01" rx="3.06" ry="1.3" fill="#4a3028" opacity=".75"/><ellipse cx="-1" cy="-15.84" rx="4.59" ry="1.2" fill="#b06a5e" opacity=".8"/>
<path d="M-15,-36 Q-15,-48 -1,-49 Q13,-48 13,-36 Q-1,-47 -15,-36 Z" fill="#26281f"/></g></g><circle cx="0" cy="0" r="48.9" fill="none" stroke="#f6b8b8" stroke-opacity=".6" stroke-width="1.8"/></svg>
<div class="t" style="left:577.48px;top:284px;font-size:12.72px;color:#081a3a;transform:translate(0.00px,0.88px) scaleX(0.9951);font-weight:bold;">GURU KELAS 6</div>
<div class="t" style="left:580.88px;top:300px;font-size:8.43px;color:#172a4a;transform:translate(0.00px,0.27px) scaleX(0.9058);font-style:italic;">ANIS FARIQURRAHMAN, S. Pd</div>
<svg class="av" width="34" height="34" viewBox="-50 -50 100 100" style="left:103.70px;top:357.45px"><circle cx="0" cy="0" r="50" fill="#c9dfea"/><g clip-path="url(#cav)"><g filter="url(#bl)"><rect x="-52" y="-52" width="104" height="104" fill="#ee0f0f"/>
<path d="M-54,54 L-54,25 C-40,18 -26,21.5 -17,16.5 L17,16.5 C26,21.5 40,18 54,25 L54,54 Z" fill="#161619"/>
<path d="M-14.5,19 L14.5,19 L10.5,54 L-10.5,54 Z" fill="#f4f2f5"/>
<ellipse cx="-1.5" cy="-14" rx="22" ry="33.5" fill="#1b181b"/>
<path d="M-22,-8 L-17.5,21 L16,21 L20.5,-8 Z" fill="#1b181b"/>
<ellipse cx="-1.8" cy="-17" rx="16.8" ry="25" fill="#f0c8b0"/><ellipse cx="-9.36" cy="-22.5" rx="3.36" ry="1.3" fill="#4a3028" opacity=".75"/><ellipse cx="5.76" cy="-22.5" rx="3.36" ry="1.3" fill="#4a3028" opacity=".75"/><ellipse cx="-1.8" cy="-4" rx="5.04" ry="1.2" fill="#c86a60" opacity=".8"/></g></g><circle cx="0" cy="0" r="48.9" fill="none" stroke="#f6b8b8" stroke-opacity=".6" stroke-width="1.8"/></svg>
<div class="t" style="left:145.38px;top:361px;font-size:13.08px;color:#081a3a;transform:translate(0.00px,0.27px) scaleX(0.9769);font-weight:bold;">GURU PAI</div>
<div class="t" style="left:145.61px;top:391px;font-size:9.88px;color:#172a4a;transform:translate(0.00px,0.75px) scaleX(0.9595);font-style:italic;">ERLINDA ERISTICA, S. Pd</div>
<svg class="av" width="34" height="34" viewBox="-50 -50 100 100" style="left:319.60px;top:357.35px"><circle cx="0" cy="0" r="50" fill="#c9dfea"/><g clip-path="url(#cav)"><g filter="url(#bl)"><rect x="-52" y="-52" width="104" height="104" fill="#ee0f0f"/>
<path d="M-54,54 L-54,25 C-40,18 -26,19 -16.7,14 L16.7,14 C26,19 40,18 54,25 L54,54 Z" fill="#eee9ee"/>
<rect x="-10" y="6" width="20" height="14" fill="#e3b096"/>
<ellipse cx="-19.5" cy="-16" rx="2.6" ry="5.5" fill="#e2b096"/><ellipse cx="19.5" cy="-16" rx="2.6" ry="5.5" fill="#e2b096"/>
<ellipse cx="0" cy="-15" rx="18.6" ry="31" fill="#e9ba9f"/><ellipse cx="-8.37" cy="-21.82" rx="3.72" ry="1.3" fill="#4a3028" opacity=".75"/><ellipse cx="8.37" cy="-21.82" rx="3.72" ry="1.3" fill="#4a3028" opacity=".75"/><ellipse cx="0" cy="1.12" rx="5.58" ry="1.2" fill="#c07a6e" opacity=".8"/>
<path d="M-17,-35 Q-17,-47 0,-48 Q17,-47 17,-35 Q0,-46 -17,-35 Z" fill="#3a2c2a"/>
<path d="M-9,18 L0,30 L9,18 L0,23 Z" fill="#d5ccd4"/></g></g><circle cx="0" cy="0" r="48.9" fill="none" stroke="#f6b8b8" stroke-opacity=".6" stroke-width="1.8"/></svg>
<div class="t" style="left:361.98px;top:361px;font-size:12.72px;color:#081a3a;transform:translate(0.00px,0.88px) scaleX(0.9937);font-weight:bold;">GURU PJOK</div>
<div class="t" style="left:360.98px;top:378px;font-size:10.17px;color:#172a4a;transform:translate(0.00px,0.07px) scaleX(0.9481);font-style:italic;">AGUS NURUL Q., S. Pd</div>
<svg class="av" width="34" height="34" viewBox="-50 -50 100 100" style="left:535.20px;top:357.45px"><circle cx="0" cy="0" r="50" fill="#c9dfea"/><g clip-path="url(#cav)"><g filter="url(#bl)"><rect x="-52" y="-52" width="104" height="104" fill="#ee0f0f"/>
<rect x="-52" y="-16" width="104" height="40" fill="url(#shd)"/>
<path d="M-54,54 L-54,20 C-40,13 -26,11 -14,6 L14,6 C26,11 40,13 54,20 L54,54 Z" fill="#15151a"/>
<path d="M-13.5,5 L13.5,5 L9,54 L-9,54 Z" fill="#f1eff3"/>
<path d="M-5.6,14 L5.6,14 L4.1,20 L5.1,54 L0,57 L-5.1,54 L-4.1,20 Z" fill="#15151a"/>
<ellipse cx="-0.5" cy="-19" rx="20" ry="29" fill="#1b181b"/>
<path d="M-18,-4 L-0.5,14 L17,-4 Z" fill="#1b181b"/>
<ellipse cx="-0.5" cy="-21" rx="14.3" ry="21.5" fill="#e6b49c"/><ellipse cx="-6.935" cy="-25.73" rx="2.86" ry="1.3" fill="#4a3028" opacity=".75"/><ellipse cx="5.935" cy="-25.73" rx="2.86" ry="1.3" fill="#4a3028" opacity=".75"/><ellipse cx="-0.5" cy="-9.82" rx="4.29" ry="1.2" fill="#c0605a" opacity=".8"/></g></g><circle cx="0" cy="0" r="48.9" fill="none" stroke="#f6b8b8" stroke-opacity=".6" stroke-width="1.8"/></svg>
<div class="t" style="left:577.47px;top:361px;font-size:13.08px;color:#081a3a;transform:translate(0.00px,0.30px) scaleX(0.9883);font-weight:bold;">GURU MULOK</div>
<div class="t" style="left:578.73px;top:377px;font-size:9.74px;color:#172a4a;transform:translate(0.00px,0.07px) scaleX(0.9967);font-style:italic;">SITI FATIMAH, S. Pd</div>
<svg class="av" width="34" height="34" viewBox="-50 -50 100 100" style="left:223.10px;top:458.25px"><circle cx="0" cy="0" r="50" fill="#c9dfea"/><g clip-path="url(#cav)"><g filter="url(#bl)"><rect x="-52" y="-52" width="104" height="104" fill="#ee0f0f"/>
<path d="M-54,54 L-54,20 C-40,13 -26,10 -15,5 L15,5 C26,10 40,13 54,20 L54,54 Z" fill="#181b28"/>
<ellipse cx="-0.5" cy="-13" rx="26.5" ry="34" fill="#1d1b20" transform="rotate(-8 0 -13)"/>
<path d="M-27,-8 L-31,28 L30,28 L25,-8 Z" fill="#1d1b20"/>
<g transform="rotate(-10 0 -15)"><ellipse cx="0" cy="-16" rx="15.5" ry="21" fill="#dcaa8e"/><ellipse cx="-6.975" cy="-20.62" rx="3.1" ry="1.3" fill="#4a3028" opacity=".75"/><ellipse cx="6.975" cy="-20.62" rx="3.1" ry="1.3" fill="#4a3028" opacity=".75"/><ellipse cx="0" cy="-5.08" rx="4.65" ry="1.2" fill="#b8645c" opacity=".8"/></g></g></g><circle cx="0" cy="0" r="48.9" fill="none" stroke="#f6b8b8" stroke-opacity=".6" stroke-width="1.8"/></svg>
<div class="t" style="left:267.16px;top:463px;font-size:12.35px;color:#081a3a;transform:translate(0.00px,0.38px) scaleX(0.8663);font-weight:bold;">OPERATOR SEKOLAH</div>
<div class="t" style="left:269.56px;top:477px;font-size:8.43px;color:#172a4a;transform:translate(0.00px,0.07px) scaleX(0.9381);font-style:italic;">KARIMATUL HASANAH, S. Kom</div>
<svg class="av" width="34" height="34" viewBox="-50 -50 100 100" style="left:414.70px;top:460.95px"><circle cx="0" cy="0" r="50" fill="#c9dfea"/><g clip-path="url(#cav)"><g filter="url(#bl)"><rect x="-52" y="-52" width="104" height="104" fill="#ee0f0f"/>
<path d="M-54,54 L-54,13 C-40,6 -26,10 -17,5 L17,5 C26,10 40,6 54,13 L54,54 Z" fill="#ece8ee"/>
<rect x="-10" y="-2" width="20" height="12" fill="#e6b49c"/>
<ellipse cx="-20.5" cy="-18" rx="2.6" ry="5.5" fill="#e6b49c"/><ellipse cx="18.5" cy="-18" rx="2.6" ry="5.5" fill="#e6b49c"/>
<ellipse cx="-1" cy="-19" rx="18.8" ry="25.5" fill="#ecbba2"/><ellipse cx="-9.46" cy="-24.61" rx="3.76" ry="1.3" fill="#4a3028" opacity=".75"/><ellipse cx="7.46" cy="-24.61" rx="3.76" ry="1.3" fill="#4a3028" opacity=".75"/><ellipse cx="-1" cy="-5.74" rx="5.64" ry="1.2" fill="#c07a6e" opacity=".8"/>
<path d="M-18,-33.5 Q-18,-45.5 -1,-46.5 Q16,-45.5 16,-33.5 Q-1,-44.5 -18,-33.5 Z" fill="#3a2c2a"/>
<path d="M-9,8 L0,22 L9,8 L0,13 Z" fill="#d5ccd4"/></g></g><circle cx="0" cy="0" r="48.9" fill="none" stroke="#f6b8b8" stroke-opacity=".6" stroke-width="1.8"/></svg>
<div class="t" style="left:455.27px;top:464px;font-size:11.77px;color:#081a3a;transform:translate(0.00px,0.10px) scaleX(0.9237);font-weight:bold;">PENJAGA SEKOLAH</div>
<div class="t" style="left:455.72px;top:480px;font-size:9.88px;color:#172a4a;transform:translate(0.00px,0.10px) scaleX(0.9666);font-style:italic;">IIS SUSIYANTO</div>
<svg width="800" height="600" viewBox="0 0 800 600" style="left:0;top:0"><line x1="191" y1="268.9" x2="189.9" y2="310.8" stroke="#0a0a0a" stroke-width="3.2"/></svg>
<svg width="90" height="90" viewBox="107 43 90 90" style="left:107px;top:43px">
<defs>
<linearGradient id="lg" x1="0" y1="0" x2="0" y2="1"><stop offset="0" stop-color="#2b2a8c"/><stop offset="0.62" stop-color="#2b2a8c"/><stop offset="0.70" stop-color="#12994c"/><stop offset="1" stop-color="#12994c"/></linearGradient>
<path id="arcT" d="M 130.53 97.66 A 23.8 23.8 0 1 1 173.67 97.66"/>
<path id="arcB" d="M 127.61 104.75 A 29.9 29.9 0 0 0 176.59 104.75"/>
<clipPath id="inner"><circle cx="152.10" cy="87.60" r="21"/></clipPath>
</defs>
<polygon points="190.90,87.60 183.68,77.34 183.49,64.79 171.61,60.74 164.09,50.70 152.10,54.40 140.11,50.70 132.59,60.74 120.71,64.79 120.52,77.34 113.30,87.60 120.52,97.86 120.71,110.41 132.59,114.46 140.11,124.50 152.10,120.80 164.09,124.50 171.61,114.46 183.49,110.41 183.68,97.86" fill="url(#lg)"/>
<circle cx="152.10" cy="87.60" r="32.7" fill="#fff"/>
<circle cx="152.10" cy="87.60" r="31.7" fill="#e21f26"/>
<circle cx="152.10" cy="87.60" r="21.8" fill="#fff"/>
<circle cx="152.10" cy="87.60" r="21" fill="#27a1e3"/>
<g clip-path="url(#inner)">
<polygon points="130,112 135,99 140,100 146,95 151.5,90.5 155,94.5 159,93.5 164,98 169,97.5 176,112" fill="#e21f26"/>
<path d="M135 97.5 Q145 96 152 102.5 Q159 96 169 97.5 L169 101.5 Q159 100 152 106.5 Q145 100 135 101.5 Z" fill="#f6d21c"/>
<path d="M136.5 102 Q146 100.5 152 106.8 Q158 100.5 167.5 102 L167.5 104.5 Q158 103.5 152 109.5 Q146 103.5 136.5 104.5 Z" fill="#16a04e"/>
</g>
<polygon points="127.10,94.00 126.37,96.10 124.15,96.14 125.92,97.48 125.28,99.61 127.10,98.34 128.92,99.61 128.28,97.48 130.05,96.14 127.83,96.10" fill="#f6d21c"/>
<polygon points="176.70,94.00 175.97,96.10 173.75,96.14 175.52,97.48 174.88,99.61 176.70,98.34 178.52,99.61 177.88,97.48 179.65,96.14 177.43,96.10" fill="#f6d21c"/>
<text font-family="Liberation Sans, sans-serif" font-weight="bold" font-size="8.4" fill="#fff" textLength="76" lengthAdjust="spacingAndGlyphs"><textPath href="#arcT" startOffset="50%" text-anchor="middle" textLength="76" lengthAdjust="spacingAndGlyphs">SEKOLAH DASAR NEGERI</textPath></text>
<text font-family="Liberation Sans, sans-serif" font-weight="bold" font-size="8.4" fill="#fff" textLength="47" lengthAdjust="spacingAndGlyphs"><textPath href="#arcB" startOffset="50%" text-anchor="middle" textLength="47" lengthAdjust="spacingAndGlyphs">SITUBONDO</textPath></text>
<text x="152.10" y="80.40" font-family="Liberation Serif, serif" font-weight="bold" font-size="10.5" fill="#fff" text-anchor="middle">I</text>
<text x="152.10" y="89.20" font-family="Liberation Sans, sans-serif" font-weight="bold" font-size="7.8" fill="#fff" text-anchor="middle" textLength="39.5" lengthAdjust="spacingAndGlyphs">BUGEMAN</text>
</svg>
<div class="t" style="left:224.30px;top:43px;font-size:32.99px;color:#081a3a;transform:translate(0.00px,0.70px) scaleX(0.9454);font-weight:bold;">STRUKTUR</div>
<div class="t" style="left:404.89px;top:43px;font-size:32.99px;color:#081a3a;transform:translate(0.00px,0.70px) scaleX(0.9643);font-weight:bold;">ORGANISASI</div>
<div class="t" style="left:272.38px;top:77px;font-size:25.29px;color:#081a3a;transform:translate(0.00px,0.30px) scaleX(0.9837);font-weight:bold;">SD</div>
<div class="t" style="left:313.27px;top:77px;font-size:25.29px;color:#081a3a;transform:translate(0.00px,0.30px) scaleX(0.9617);font-weight:bold;">NEGERI</div>
<div class="t" style="left:414.02px;top:77px;font-size:25.29px;color:#081a3a;transform:translate(0.00px,0.30px) scaleX(0.9333);font-weight:bold;">I</div>
<div class="t" style="left:428.21px;top:76px;font-size:25.29px;color:#081a3a;transform:translate(0.00px,0.55px) scaleX(1.0002);font-weight:bold;">BUGEMAN</div>
<div class="t" style="left:322.02px;top:106px;font-size:16.86px;color:#081a3a;transform:translate(0.00px,0.30px) scaleX(0.9648);font-weight:bold;">Tahun</div>
<div class="t" style="left:375.33px;top:106px;font-size:16.86px;color:#081a3a;transform:translate(0.00px,0.30px) scaleX(0.9910);font-weight:bold;">Ajaran</div>
<div class="t" style="left:431.04px;top:105px;font-size:16.57px;color:#081a3a;transform:translate(0.00px,0.55px) scaleX(1.1510);font-weight:bold;">2025/2026</div>
</body></html>
